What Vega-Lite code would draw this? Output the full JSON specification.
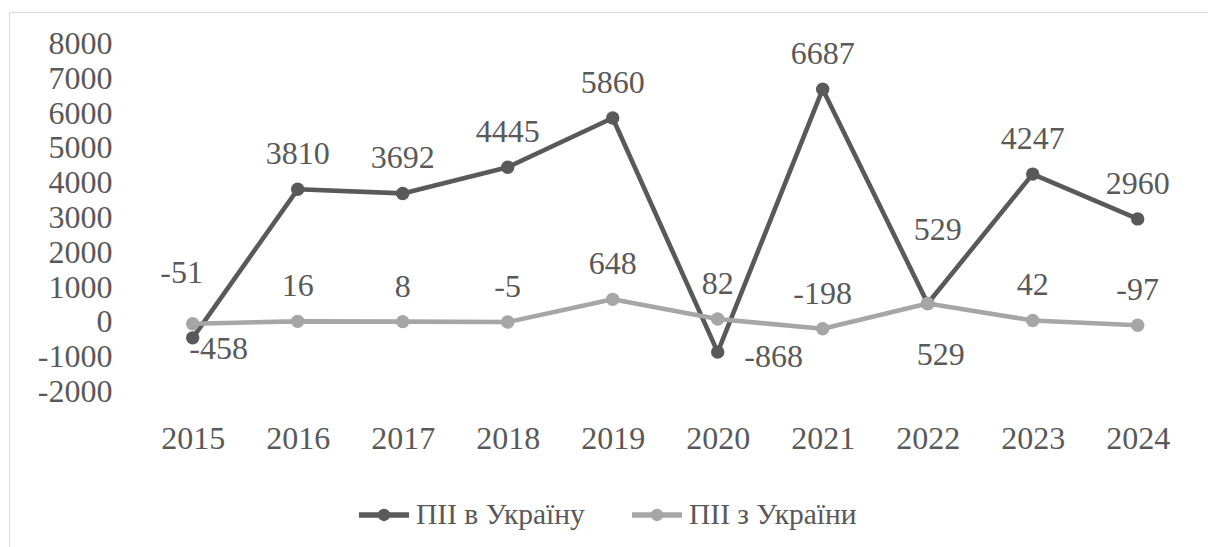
{
  "$schema": "https://vega.github.io/schema/vega-lite/v6.json",
  "width": 1199,
  "height": 535,
  "autosize": {"type": "none"},
  "padding": {"left": 9, "top": 12, "right": 0, "bottom": 0},
  "background": "white",
  "config": {
    "view": {"stroke": "#D9D9D9", "strokeWidth": 1},
    "font": "Liberation Serif",
    "text": {"font": "Liberation Serif"}
  },
  "datasets": {
    "fdi": [
      {"year": 2015, "series": "ПІІ в Україну", "value": -458},
      {"year": 2016, "series": "ПІІ в Україну", "value": 3810},
      {"year": 2017, "series": "ПІІ в Україну", "value": 3692},
      {"year": 2018, "series": "ПІІ в Україну", "value": 4445},
      {"year": 2019, "series": "ПІІ в Україну", "value": 5860},
      {"year": 2020, "series": "ПІІ в Україну", "value": -868},
      {"year": 2021, "series": "ПІІ в Україну", "value": 6687},
      {"year": 2022, "series": "ПІІ в Україну", "value": 529},
      {"year": 2023, "series": "ПІІ в Україну", "value": 4247},
      {"year": 2024, "series": "ПІІ в Україну", "value": 2960},
      {"year": 2015, "series": "ПІІ з України", "value": -51},
      {"year": 2016, "series": "ПІІ з України", "value": 16},
      {"year": 2017, "series": "ПІІ з України", "value": 8},
      {"year": 2018, "series": "ПІІ з України", "value": -5},
      {"year": 2019, "series": "ПІІ з України", "value": 648},
      {"year": 2020, "series": "ПІІ з України", "value": 82},
      {"year": 2021, "series": "ПІІ з України", "value": -198},
      {"year": 2022, "series": "ПІІ з України", "value": 529},
      {"year": 2023, "series": "ПІІ з України", "value": 42},
      {"year": 2024, "series": "ПІІ з України", "value": -97}
    ],
    "grid": [
      {"value": -2000}, {"value": -1000}, {"value": 0}, {"value": 1000}, {"value": 2000},
      {"value": 3000}, {"value": 4000}, {"value": 5000}, {"value": 6000}, {"value": 7000}, {"value": 8000}
    ]
  },
  "encoding": {
    "x": {
      "field": "year", "type": "quantitative",
      "scale": {"domain": [2015, 2024], "range": [183.7, 1128.7], "nice": false, "zero": false},
      "axis": {
        "orient": "bottom", "offset": -155.5, "values": [2015, 2016, 2017, 2018, 2019, 2020, 2021, 2022, 2023, 2024],
        "labelExpr": "'' + datum.value", "title": null, "grid": false, "domain": false, "ticks": false,
        "labelPadding": 32, "labelFontSize": 32, "labelColor": "#595959", "labelFont": "Liberation Serif",
        "labelFlush": false, "labelOverlap": false, "labelBound": false
      }
    },
    "y": {
      "field": "value", "type": "quantitative",
      "scale": {"domain": [-2000, 8000], "range": [379.5, 31.5], "nice": false, "zero": false},
      "axis": {
        "orient": "left", "offset": -131, "values": [-2000, -1000, 0, 1000, 2000, 3000, 4000, 5000, 6000, 7000, 8000],
        "labelExpr": "'' + datum.value", "title": null, "grid": false, "domain": false, "ticks": false,
        "labelPadding": 28, "labelFontSize": 32, "labelColor": "#595959", "labelFont": "Liberation Serif",
        "labelFlush": false, "labelOverlap": false, "labelBound": false
      }
    }
  },
  "layer": [
    {
      "data": {"name": "grid"},
      "mark": {"type": "rule", "color": "#D9D9D9", "strokeWidth": 1.5},
      "encoding": {
        "x": {"datum": 2014.5, "type": "quantitative"},
        "x2": {"datum": 2024.5}
      }
    },
    {
      "data": {"name": "fdi"},
      "mark": {"type": "line", "strokeWidth": 4.6, "strokeCap": "round", "strokeJoin": "round"},
      "encoding": {
        "color": {
          "field": "series", "type": "nominal",
          "scale": {"domain": ["ПІІ в Україну", "ПІІ з України"], "range": ["#595959", "#A6A6A6"]},
          "legend": {
            "orient": "none", "legendX": 347, "legendY": 474.7, "direction": "horizontal",
            "title": null, "padding": 0,
            "symbolType": "M-1,0H1M-0.14,0A0.14,0.14,0,1,0,0.14,0A0.14,0.14,0,1,0,-0.14,0Z",
            "symbolSize": 2500, "symbolStrokeWidth": 5.5,
            "labelFontSize": 29.5, "labelColor": "#595959", "labelFont": "Liberation Serif",
            "labelOffset": 4, "columnPadding": 36, "labelLimit": 0,
            "encode": {"symbols": {"update": {"fill": {"scale": "color", "field": "value"}, "stroke": {"scale": "color", "field": "value"}, "opacity": {"value": 1}}}}
          }
        },
        "order": {"field": "year", "type": "quantitative"}
      }
    },
    {
      "data": {"name": "fdi"},
      "mark": {"type": "point", "filled": true, "size": 180, "opacity": 1},
      "encoding": {
        "color": {"field": "series", "type": "nominal"}
      }
    },
    {
      "data": {"name": "fdi"},
      "transform": [{"filter": "!((datum.year == 2015 || datum.year == 2020 || datum.year == 2022) && datum.series == 'ПІІ в Україну') && !((datum.year == 2015 || datum.year == 2022) && datum.series == 'ПІІ з України')"}],
      "mark": {"type": "text", "fontSize": 32, "color": "#595959", "baseline": "middle", "align": "center", "dy": -35},
      "encoding": {"text": {"field": "value", "type": "nominal"}}
    },
    {
      "data": {"name": "fdi"},
      "transform": [{"filter": "datum.year == 2015 && datum.series == 'ПІІ в Україну'"}],
      "mark": {"type": "text", "fontSize": 32, "color": "#595959", "baseline": "middle", "align": "center", "dx": 26, "dy": 11},
      "encoding": {"text": {"field": "value", "type": "nominal"}}
    },
    {
      "data": {"name": "fdi"},
      "transform": [{"filter": "datum.year == 2020 && datum.series == 'ПІІ в Україну'"}],
      "mark": {"type": "text", "fontSize": 32, "color": "#595959", "baseline": "middle", "align": "center", "dx": 56, "dy": 5},
      "encoding": {"text": {"field": "value", "type": "nominal"}}
    },
    {
      "data": {"name": "fdi"},
      "transform": [{"filter": "datum.year == 2022 && datum.series == 'ПІІ в Україну'"}],
      "mark": {"type": "text", "fontSize": 32, "color": "#595959", "baseline": "middle", "align": "center", "dx": 10, "dy": -73},
      "encoding": {"text": {"field": "value", "type": "nominal"}}
    },
    {
      "data": {"name": "fdi"},
      "transform": [{"filter": "datum.year == 2015 && datum.series == 'ПІІ з України'"}],
      "mark": {"type": "text", "fontSize": 32, "color": "#595959", "baseline": "middle", "align": "center", "dx": -11, "dy": -51},
      "encoding": {"text": {"field": "value", "type": "nominal"}}
    },
    {
      "data": {"name": "fdi"},
      "transform": [{"filter": "datum.year == 2022 && datum.series == 'ПІІ з України'"}],
      "mark": {"type": "text", "fontSize": 32, "color": "#595959", "baseline": "middle", "align": "center", "dx": 13, "dy": 52},
      "encoding": {"text": {"field": "value", "type": "nominal"}}
    }
  ]
}
